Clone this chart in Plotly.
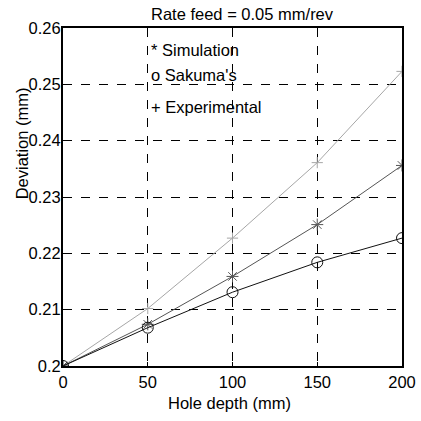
import plotly.graph_objects as go

depth = [0, 50, 100, 150, 200]
simulation = [0.2, 0.2074, 0.2159, 0.2251, 0.2356]
sakuma = [0.2, 0.2068, 0.2131, 0.2184, 0.2227]
experimental = [0.2, 0.2102, 0.2227, 0.2361, 0.2523]
x_ticks = [0, 50, 100, 150, 200]
y_ticks = [0.2, 0.21, 0.22, 0.23, 0.24, 0.25, 0.26]
y_tick_labels = ["0.2", "0.21", "0.22", "0.23", "0.24", "0.25", "0.26"]

FONT = "Liberation Sans, Arial, sans-serif"
FS = 16.5

fig = go.Figure()
fig.add_trace(go.Scatter(x=depth, y=experimental, mode="lines+markers",
                         line=dict(color="#a6a6a6", width=1),
                         marker=dict(symbol="cross-thin-open", size=8,
                                     line=dict(color="#a6a6a6", width=1)),
                         name="Experimental"))
fig.add_trace(go.Scatter(x=depth, y=simulation, mode="lines+markers",
                         line=dict(color="#555555", width=1),
                         marker=dict(symbol="asterisk-open", size=10,
                                     line=dict(color="#555555", width=1)),
                         name="Simulation"))
fig.add_trace(go.Scatter(x=depth, y=sakuma, mode="lines+markers",
                         line=dict(color="#111111", width=1),
                         marker=dict(symbol="circle-open", size=11,
                                     color="#111111",
                                     line=dict(color="#111111", width=1)),
                         name="Sakuma's"))

axis_common = dict(showline=True, linecolor="black", linewidth=2, mirror=True,
                   showgrid=True, gridcolor="black", griddash="dash", gridwidth=1,
                   zeroline=False, ticks="inside", ticklen=4, tickcolor="black",
                   automargin=False,
                   tickfont=dict(family=FONT, size=FS, color="black"))

fig.update_layout(
    width=421, height=421,
    margin=dict(l=63, r=19, t=28, b=55),
    paper_bgcolor="white", plot_bgcolor="white",
    showlegend=False,
    xaxis=dict(range=[0, 200], tickvals=x_ticks, ticklabelstandoff=0, **axis_common),
    yaxis=dict(range=[0.2, 0.26], tickvals=y_ticks, ticktext=y_tick_labels,
               ticklabelstandoff=-3, **axis_common),
    font=dict(family=FONT, size=FS, color="black"),
)

fig.add_annotation(text="Rate feed = 0.05 mm/rev", xref="paper", yref="paper",
                   x=(242-63)/339, y=1, yshift=14, yanchor="middle", showarrow=False,
                   font=dict(size=FS, family=FONT))
fig.add_annotation(text="Hole depth (mm)", xref="paper", yref="paper",
                   x=(293-63)/339, y=0, yshift=-37, yanchor="middle", showarrow=False,
                   font=dict(size=FS, family=FONT))
fig.add_annotation(text="Deviation (mm)", xref="paper", yref="paper",
                   x=0, xshift=-41, y=(366.5-143.5)/338.5, textangle=-90,
                   xanchor="center", yanchor="middle", showarrow=False,
                   font=dict(size=FS, family=FONT))
for txt, yy in [("* Simulation", 50), ("o Sakuma's", 75), ("+ Experimental", 107)]:
    fig.add_annotation(text=txt, xref="paper", yref="paper",
                       x=(149-63)/339, y=(366.5-yy)/338.5, xanchor="left",
                       yanchor="middle", showarrow=False,
                       font=dict(size=FS, family=FONT))

fig.write_html("out.html")
